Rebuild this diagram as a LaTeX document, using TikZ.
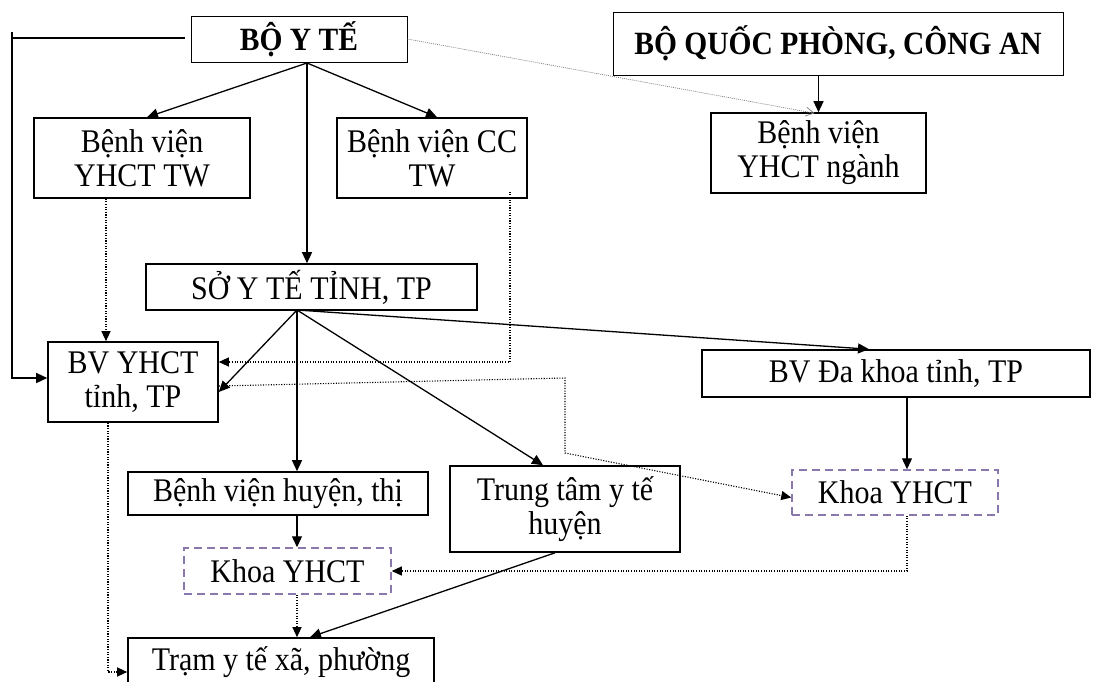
\documentclass[tikz,border=0pt]{standalone}
\usepackage{fontspec}
\setmainfont{Liberation Serif}
\usetikzlibrary{arrows.meta,calc}
\definecolor{dashpurple}{HTML}{8A78AC}
\newcommand\vs[1]{\scalebox{1}[1.1]{#1}}
\begin{document}
\begin{tikzpicture}[x=1pt,y=-1pt,
  every node/.style={font=\fontsize{30}{34}\selectfont, align=center, inner sep=0pt},
  box/.style={draw, line width=1.6pt},
  thinbox/.style={draw, line width=0.8pt},
  dbox/.style={draw=dashpurple, line width=1.5pt, dash pattern=on 8pt off 5pt},
  conn/.style={line width=1.3pt, -{Triangle[length=11pt,width=10pt]}},
  plain/.style={line width=1.3pt},
  dotc/.style={line width=1.1pt, dash pattern=on 1.1pt off 1.5pt, -{Triangle[length=10pt,width=9pt]}},
  dotl/.style={line width=1.1pt, dash pattern=on 1.1pt off 1.5pt}
]
\useasboundingbox (0,0) rectangle (1093,682);
\fill[white] (0,0) rectangle (1093,682);

\node[thinbox, minimum width=216pt, minimum height=46pt, font=\fontsize{29.5}{33}\selectfont\bfseries] (byt) at (299,39) {\vs{BỘ Y TẾ}};
\node[thinbox, minimum width=450pt, minimum height=63pt, font=\fontsize{29.5}{33}\selectfont\bfseries] (bqp) at (838,43.5) {\vs{BỘ QUỐC PHÒNG, CÔNG AN}};
\node[box, minimum width=216pt, minimum height=80pt] (ytw) at (142,158) {\vs{Bệnh viện}\\\vs{YHCT TW}};
\node[box, minimum width=190pt, minimum height=80pt] (cctw) at (432,158) {\vs{Bệnh viện CC}\\\vs{TW}};
\node[box, minimum width=215pt, minimum height=80pt] (nganh) at (818.5,153) {\vs{Bệnh viện}\\\vs{YHCT ngành}};
\node[box, minimum width=331pt, minimum height=46pt] (syt) at (311.5,287) {\vs{SỞ Y TẾ TỈNH, TP}};
\node[box, minimum width=170pt, minimum height=80pt] (bvt) at (133,382) {\vs{BV YHCT}\\\vs{tỉnh, TP}};
\node[box, minimum width=388pt, minimum height=47pt] (dk) at (896,373.5) {\vs{BV Đa khoa tỉnh, TP}};
\node[dbox, minimum width=206pt, minimum height=45pt] (kr) at (895,492.5) {\vs{Khoa YHCT}};
\node[box, minimum width=300pt, minimum height=43pt] (bvh) at (278,493.5) {\vs{Bệnh viện huyện, thị}};
\node[box, minimum width=230pt, minimum height=86pt] (tt) at (565,509) {\vs{Trung tâm y tế}\\\vs{huyện}};
\node[dbox, minimum width=207pt, minimum height=46pt] (kl) at (287.5,571) {\vs{Khoa YHCT}};
\node[box, minimum width=306pt, minimum height=48pt] (tram) at (281,662) {\vs{Trạm y tế xã, phường}};

\coordinate (bytS) at (307,63);
\coordinate (sytS) at (297,310);
\coordinate (bytW) at (185,38);
\coordinate (leftTop) at (12,32);

% left bracket
\draw[plain] (bytW) -- (12,38);
\draw[conn] (leftTop) |- ([yshift=4pt]bvt.west);

% from BO Y TE
\draw[conn] (bytS) -- ([xshift=5pt]ytw.north);
\draw[conn] (bytS) -- ([xshift=5pt]cctw.north);
\draw[conn] (bytS) -- (bytS |- syt.north);
\draw[line width=0.7pt, gray, dash pattern=on 1pt off 1pt, -{Straight Barb[length=8pt,width=9pt]}] (byt.east) -- ([xshift=-4pt,yshift=-1pt]nganh.north);
\draw[conn] (nganh.north |- bqp.south) -- (nganh.north);

% dotted from TW hospitals
\draw[dotc] ([xshift=-36pt]ytw.south) -- ([xshift=-36pt]ytw.south |- bvt.north);
\coordinate (ccS) at ([xshift=78pt,yshift=7pt]cctw.south);
\draw[dotc] (ccS) |- ([yshift=20pt]bvt.east);

% from SO Y TE
\draw[conn] (sytS) -- ([yshift=-10pt]bvt.east);
\draw[conn] (sytS) -- (sytS |- bvh.north);
\draw[conn] (sytS) -- ([xshift=-22pt]tt.north);
\draw[conn] (sytS) -- ([xshift=-27pt]dk.north);

% dotted BV YHCT tinh to Khoa right
\coordinate (d1) at (565,378);
\coordinate (d2) at (565,453);
\draw[dotc] ([yshift=-4pt]bvt.east) -- (d1) -- (d2) -- ([yshift=-5pt]kr.west);

% Da khoa to Khoa
\draw[conn] ([xshift=12pt]kr.north |- dk.south) -- ([xshift=12pt]kr.north);

% Khoa right to Khoa left
\draw[dotc] ([xshift=12pt]kr.south) |- (kl.east);

% Benh vien huyen to Khoa left
\draw[conn] (sytS |- bvh.south) -- (sytS |- kl.north);

% Khoa left to Tram
\draw[dotc] (sytS |- kl.south) -- (sytS |- tram.north);

% Trung tam to Tram
\draw[conn] ([xshift=-10pt]tt.south) -- ([xshift=29pt]tram.north);

% BV YHCT tinh to Tram
\draw[dotc] ([xshift=-25pt]bvt.south) |- ([yshift=-10pt]tram.west);
\end{tikzpicture}
\end{document}
